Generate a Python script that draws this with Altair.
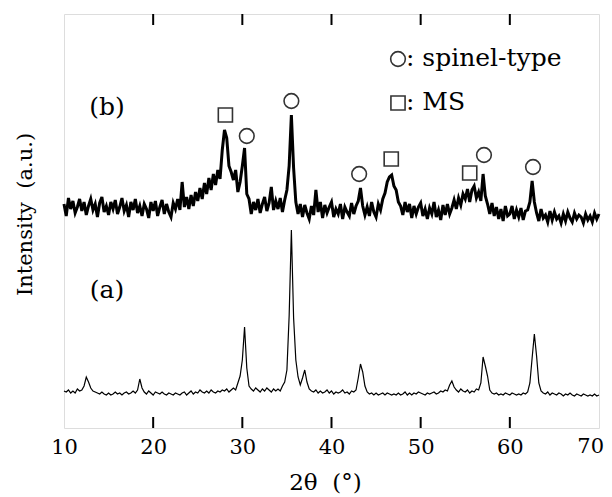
import altair as alt
import pandas as pd

# ---- data (heights in a.u., step 0.25 deg from 10 deg) ----
pattern_a_rows = [
    [37, 36, 38, 35], [37, 35, 39, 37], [38, 42, 51, 46], [40, 37, 36, 35],
    [34, 36, 34, 33], [35, 33, 34, 36], [34, 35, 33, 35], [36, 34, 35, 37],
    [35, 38, 49, 40], [36, 34, 37, 35], [33, 36, 35, 34], [36, 34, 33, 35],
    [34, 33, 35, 34], [33, 35, 36, 33], [35, 37, 34, 36], [35, 38, 36, 35],
    [37, 35, 38, 36], [35, 37, 36, 38], [37, 39, 36, 38], [40, 38, 45, 52],
    [68, 101, 60, 42], [39, 37, 40, 38], [36, 39, 37, 40], [38, 36, 39, 37],
    [39, 37, 42, 46], [58, 112, 198, 110], [68, 51, 43, 50], [58, 46, 39, 37],
    [36, 38, 35, 37], [35, 36, 38, 35], [37, 34, 36, 35], [36, 38, 35, 36],
    [34, 37, 36, 38], [50, 64, 56, 42], [36, 34, 35, 33], [35, 33, 34, 35],
    [33, 35, 34, 33], [34, 33, 35, 33], [34, 36, 33, 35], [33, 35, 34, 36],
    [35, 34, 33, 35], [34, 35, 36, 34], [35, 37, 36, 38], [37, 43, 47, 41],
    [38, 36, 39, 37], [36, 38, 35, 37], [36, 39, 38, 45], [71, 62, 52, 38],
    [35, 34, 35, 33], [34, 33, 35, 34], [33, 35, 34, 33], [34, 33, 35, 34],
    [36, 45, 70, 94], [72, 45, 37, 35], [34, 36, 33, 35], [34, 33, 35, 34],
    [32, 34, 33, 35], [33, 32, 34, 33], [32, 34, 33, 32], [33, 32, 34, 32],
    [33],
]

pattern_b_rows = [
    [224, 212, 230, 219], [227, 215, 221, 229], [217, 226, 213, 222], [229, 218, 224, 211],
    [225, 231, 216, 222], [213, 226, 219, 228], [214, 221, 230, 217], [223, 211, 226, 218],
    [229, 215, 222, 212], [224, 219, 210, 226], [217, 227, 212, 221], [228, 214, 224, 216],
    [211, 225, 219, 229], [218, 246, 221, 231], [219, 233, 222, 236], [227, 240, 229, 245],
    [234, 250, 238, 254], [243, 258, 249, 278], [298, 290, 262, 256], [248, 258, 236, 246],
    [262, 280, 234, 229], [214, 226, 218, 229], [215, 224, 231, 217], [225, 241, 218, 227],
    [219, 230, 216, 228], [238, 262, 313, 260], [226, 214, 224, 211], [223, 215, 209, 222],
    [213, 238, 216, 226], [210, 223, 215, 221], [226, 211, 219, 214], [224, 209, 221, 216],
    [212, 225, 214, 222], [227, 240, 222, 213], [221, 212, 226, 216], [211, 224, 218, 229],
    [235, 246, 251, 253], [242, 238, 226, 222], [213, 226, 216, 224], [210, 222, 214, 221],
    [225, 212, 219, 209], [220, 214, 226, 211], [218, 208, 223, 213], [224, 214, 220, 228],
    [219, 230, 223, 234], [229, 239, 226, 238], [242, 230, 236, 227], [254, 232, 224, 214],
    [225, 212, 221, 209], [219, 207, 222, 212], [214, 222, 209, 218], [211, 220, 208, 217],
    [218, 226, 247, 226], [215, 207, 219, 210], [213, 206, 217, 208], [216, 209, 212, 205],
    [214, 207, 216, 210], [206, 215, 209, 213], [211, 205, 214, 208], [212, 206, 215, 209],
    [214],
]

# peak markers (position in 2theta, height of the marker)
circle_x = [30.5, 35.5, 43.1, 57.1, 62.6]
circle_y = [292, 327, 254, 273, 261]
square_x = [28.1, 46.7, 55.5]
square_y = [313, 269, 255]

x_ticks = [10, 20, 30, 40, 50, 60, 70]
inner_ticks = [20, 30, 40, 50, 60]

FONT = "DejaVu Serif"
W, H = 535, 414

# ---- tables ----
vals_a = [v for row in pattern_a_rows for v in row]
vals_b = [v for row in pattern_b_rows for v in row]
df_a = pd.DataFrame({"t": [10 + 0.25 * i for i in range(len(vals_a))], "I": vals_a})
df_b = pd.DataFrame({"t": [10 + 0.25 * i for i in range(len(vals_b))], "I": vals_b})
df_c = pd.DataFrame({"t": circle_x, "I": circle_y})
df_s = pd.DataFrame({"t": square_x, "I": square_y})
df_t = pd.DataFrame({"t": inner_ticks})
df_last = pd.DataFrame({"t": x_ticks[-1:], "lab": [str(v) for v in x_ticks[-1:]]})
df_one = pd.DataFrame({"t": [0]})

xscale = alt.Scale(domain=[10, 70], nice=False, zero=False)
yscale = alt.Scale(domain=[0, 414], nice=False, zero=False)

X = alt.X("t:Q", scale=xscale,
          axis=alt.Axis(title="2θ\u00a0\u00a0(°)", values=x_ticks[:-1], format="d",
                        ticks=False, domain=False, grid=False,
                        labelFont=FONT, labelFontSize=21, labelColor="black",
                        labelFontWeight="normal",
                        labelFlush=False, labelOverlap=False, labelPadding=8,
                        titleFont=FONT, titleFontSize=23, titleFontWeight="normal",
                        titleColor="black", titlePadding=14, titleX=261))
Y = alt.Y("I:Q", scale=yscale,
          axis=alt.Axis(title="Intensity\u00a0\u00a0(a.u.)", labels=False, ticks=False,
                        domain=False, grid=False,
                        titleFont=FONT, titleFontSize=21, titleFontWeight="normal",
                        titleColor="black", titlePadding=29, titleY=200))

line_a = alt.Chart(df_a).mark_line(color="black", strokeWidth=1.2).encode(x=X, y=Y)
line_b = alt.Chart(df_b).mark_line(color="black", strokeWidth=3).encode(x="t:Q", y="I:Q")

circles = alt.Chart(df_c).mark_point(shape="circle", filled=False, size=215,
                                     strokeWidth=1.6, color="#333333", opacity=1).encode(x="t:Q", y="I:Q")
squares = alt.Chart(df_s).mark_point(shape="square", filled=False, size=200,
                                     strokeWidth=1.6, color="#333333", opacity=1).encode(x="t:Q", y="I:Q")

ticks_bottom = alt.Chart(df_t).mark_rule(color="black", strokeWidth=2).encode(
    x="t:Q", y=alt.value(H), y2=alt.value(H - 11))
ticks_top = alt.Chart(df_t).mark_rule(color="black", strokeWidth=2).encode(
    x="t:Q", y=alt.value(0), y2=alt.value(11))

# last tick label drawn separately so it stays inside the page
last_label = alt.Chart(df_last).mark_text(
    font=FONT, fontSize=21, color="black", align="right", baseline="top", dx=5
).encode(x="t:Q", y=alt.value(H + 8), text="lab:N")

def label(txt, x, y, align="center", size=25):
    return alt.Chart(df_one).mark_text(
        text=txt, font=FONT, fontSize=size, fontWeight="normal", color="black",
        align=align, baseline="middle").encode(x=alt.value(x), y=alt.value(y))

lab_b = label("(b)", 43, 93)
lab_a = label("(a)", 43, 276)

leg_c = alt.Chart(df_one).mark_point(shape="circle", filled=False, size=215, strokeWidth=1.6,
                                     color="#333333", opacity=1).encode(
    x=alt.value(334), y=alt.value(45))
leg_s = alt.Chart(df_one).mark_point(shape="square", filled=False, size=200, strokeWidth=1.6,
                                     color="#333333", opacity=1).encode(
    x=alt.value(334), y=alt.value(89))
leg_ct = label(": spinel-type", 342, 44, align="left", size=25)
leg_st = label(": MS", 342, 88, align="left", size=25)

chart = alt.layer(
    line_a, line_b, circles, squares, ticks_bottom, ticks_top, last_label,
    lab_b, lab_a, leg_c, leg_s, leg_ct, leg_st
).properties(
    width=W, height=H,
    autosize=alt.AutoSizeParams(type="none"),
    padding={"left": 56, "top": 6, "right": 5, "bottom": 70},
).configure_view(
    stroke="black", strokeWidth=2.5
).configure(background="white")

chart.save("out.html", embed_options={"renderer": "svg", "actions": False})
